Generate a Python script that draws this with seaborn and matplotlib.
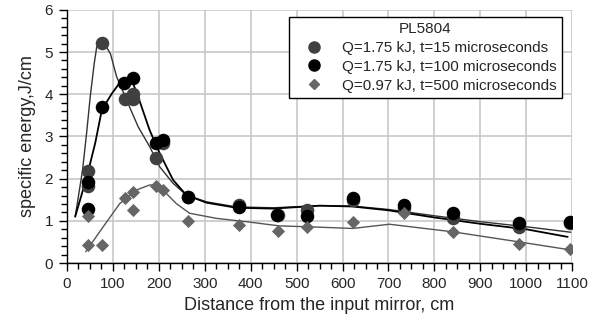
import matplotlib
matplotlib.use("Agg")
import matplotlib.pyplot as plt
from matplotlib.ticker import MultipleLocator
from matplotlib.lines import Line2D
import seaborn as sns
import pandas as pd

# ---- data ----
s1_x = [45, 45, 77, 126, 143, 143, 193, 210, 264, 374, 460, 523, 622, 733, 841, 985, 1095]
s1_y = [2.18, 1.82, 5.22, 3.89, 3.89, 4.0, 2.48, 2.85, 1.57, 1.38, 1.15, 1.26, 1.5, 1.3, 1.06, 0.86, 0.95]

s2_x = [45, 45, 77, 125, 143, 193, 210, 264, 374, 458, 523, 622, 733, 841, 985, 1095]
s2_y = [1.28, 1.91, 3.69, 4.26, 4.38, 2.85, 2.91, 1.57, 1.33, 1.15, 1.12, 1.53, 1.37, 1.18, 0.96, 0.98]

s3_x = [45, 45, 77, 127, 144, 144, 193, 210, 264, 374, 460, 523, 622, 733, 841, 985, 1095]
s3_y = [1.11, 0.43, 0.43, 1.53, 1.68, 1.26, 1.83, 1.73, 1.0, 0.90, 0.77, 0.86, 0.98, 1.18, 0.73, 0.45, 0.33]

# fitted curves
c1_x = [18, 34, 43.5, 50.7, 59.4, 65, 76, 82, 95, 108, 130, 155, 180, 202, 231, 260, 304, 369, 450, 550, 622, 700, 800, 900, 1000, 1097]
c1_y = [1.10, 2.20, 3.15, 3.94, 4.73, 5.13, 5.22, 5.2, 4.95, 4.42, 3.86, 3.23, 2.76, 2.28, 1.89, 1.61, 1.45, 1.33, 1.31, 1.36, 1.35, 1.27, 1.12, 0.98, 0.86, 0.73]

c2_x = [18, 43.5, 61.5, 76, 98, 119.6, 139, 155, 180, 202, 231, 260, 304, 369, 450, 550, 622, 700, 800, 900, 1000, 1090]
c2_y = [1.10, 2.05, 2.84, 3.63, 4.02, 4.34, 4.4, 3.94, 3.15, 2.6, 1.97, 1.61, 1.43, 1.31, 1.29, 1.36, 1.34, 1.25, 1.08, 0.93, 0.80, 0.62]

c3_x = [41, 79, 115, 151, 180, 195, 209, 238, 267, 325, 398, 463, 525, 622, 702, 840, 985, 1097]
c3_y = [0.27, 0.86, 1.41, 1.73, 1.85, 1.85, 1.73, 1.41, 1.18, 1.06, 0.97, 0.88, 0.86, 0.82, 0.92, 0.74, 0.50, 0.31]

legend_title = "PL5804"
labels = ["Q=1.75 kJ, t=15 microseconds",
          "Q=1.75 kJ, t=100 microseconds",
          "Q=0.97 kJ, t=500 microseconds"]

sns.set_style("ticks")
plt.rcParams['font.family'] = ['Liberation Sans', 'DejaVu Sans']

c_s1 = "#404040"
c_s2 = "#000000"
c_s3 = "#666666"

fig = plt.figure(figsize=(6.03, 3.28), dpi=100)
ax = fig.add_axes([0.111, 0.198, 0.838, 0.772])

sns.lineplot(x=c1_x, y=c1_y, ax=ax, color="#333333", lw=1.0, sort=False, zorder=2)
sns.lineplot(x=c2_x, y=c2_y, ax=ax, color="#000000", lw=1.3, sort=False, zorder=2)
sns.lineplot(x=c3_x, y=c3_y, ax=ax, color="#555555", lw=1.0, sort=False, zorder=2)

sns.scatterplot(x=s1_x, y=s1_y, ax=ax, color=c_s1, marker="o", s=95, edgecolor=c_s1, linewidth=0, zorder=3)
sns.scatterplot(x=s2_x, y=s2_y, ax=ax, color=c_s2, marker="o", s=95, edgecolor=c_s2, linewidth=0, zorder=4)
sns.scatterplot(x=s3_x, y=s3_y, ax=ax, color=c_s3, marker="D", s=45, edgecolor=c_s3, linewidth=0, zorder=5)

ax.set_xlim(0, 1100)
ax.set_ylim(0, 6)
ax.xaxis.set_major_locator(MultipleLocator(100))
ax.xaxis.set_minor_locator(MultipleLocator(25))
ax.yaxis.set_major_locator(MultipleLocator(1))
ax.yaxis.set_minor_locator(MultipleLocator(0.2))
ax.grid(True, which="major", color="#c8c8c8", lw=1.2)
ax.set_axisbelow(True)
for s in ["top", "right"]:
    ax.spines[s].set_visible(False)
for s in ["left", "bottom"]:
    ax.spines[s].set_color("black")
    ax.spines[s].set_linewidth(1.0)
ax.tick_params(which="major", length=6, width=1.0, color="black", labelsize=11, direction="out", pad=4)
ax.tick_params(which="minor", length=4, width=1.0, color="black", direction="out")

ax.set_xlabel("Distance from the input mirror, cm", fontsize=13, labelpad=4)
ax.set_ylabel("specific energy,J/cm", fontsize=13, labelpad=6)

handles = [Line2D([], [], ls="", marker="o", color=c_s1, markersize=8),
           Line2D([], [], ls="", marker="o", color=c_s2, markersize=8),
           Line2D([], [], ls="", marker="D", color=c_s3, markersize=5)]
leg = ax.legend(handles, labels, title=legend_title, loc="upper right",
                bbox_to_anchor=(0.985, 0.985), fontsize=11, title_fontsize=11,
                frameon=True, fancybox=False, framealpha=1, edgecolor="black",
                handletextpad=0.5, borderpad=0.35, labelspacing=0.32, borderaxespad=0.2,
                handlelength=2.6)
leg.get_frame().set_linewidth(1.0)

fig.savefig("out.png", dpi=100)
